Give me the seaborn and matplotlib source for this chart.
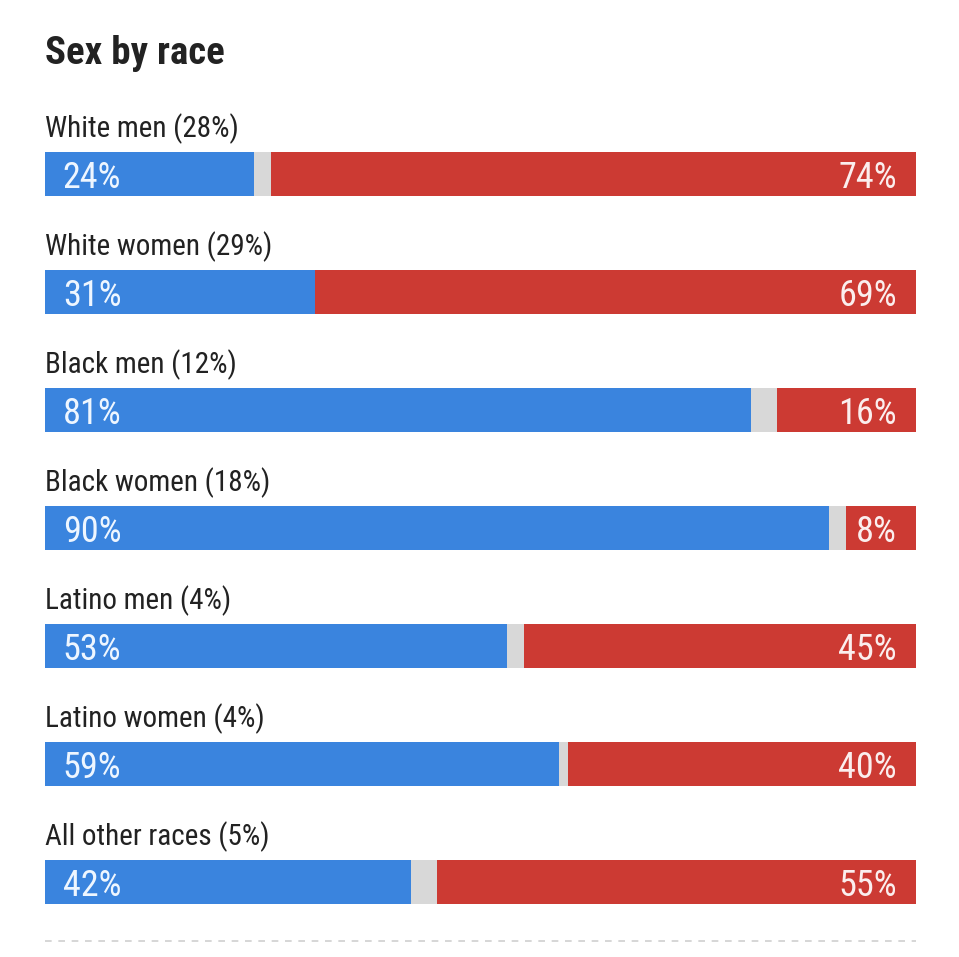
import matplotlib
matplotlib.use("Agg")
import matplotlib.pyplot as plt
from matplotlib import font_manager
import seaborn as sns
import pandas as pd
import os

# values
groups = ["White men (28%)", "White women (29%)", "Black men (12%)", "Black women (18%)",
          "Latino men (4%)", "Latino women (4%)", "All other races (5%)"]
biden = [24, 31, 81, 90, 53, 59, 42]
trump = [74, 69, 16, 8, 45, 40, 55]

BLUE = "#3a84de"
RED = "#cc3a33"
GRAY = "#d8d8d8"
INK = "#222222"


def find_font(keys):
    files = set(font_manager.findSystemFonts()) | {f.fname for f in font_manager.fontManager.ttflist}
    for k in keys:
        for f in sorted(files):
            if k.lower() in os.path.basename(f).lower():
                return f
    return None


reg_file = find_font(["RobotoCondensed-Regular", "RobotoCondensed-Light", "LiberationSansNarrow-Regular",
                      "DejaVuSansCondensed.ttf", "Condensed-Regular", "Narrow-Regular"])
bold_file = find_font(["RobotoCondensed-Bold", "LiberationSansNarrow-Bold", "DejaVuSansCondensed-Bold.ttf",
                       "Condensed-Bold", "Narrow-Bold"])

sns.set_theme(style="white")
plt.rcParams["font.family"] = ["DejaVu Sans"]

reg = font_manager.FontProperties(fname=reg_file) if reg_file else font_manager.FontProperties(family="DejaVu Sans")
bold = font_manager.FontProperties(fname=bold_file) if bold_file else font_manager.FontProperties(family="DejaVu Sans", weight="bold")

df = pd.DataFrame({"group": groups, "biden": biden, "trump": trump})
df["total"] = 100
df["gap"] = 100 - df["trump"]

W, H = 959, 957
fig = plt.figure(figsize=(W / 100, H / 100), dpi=100)
ax = fig.add_axes([45 / W, 1 - 941 / H, (916 - 45) / W, (941 - 115) / H])

bw = 44 / 118
for col, c in [("total", RED), ("gap", GRAY), ("biden", BLUE)]:
    sns.barplot(data=df, x=col, y="group", color=c, width=bw, saturation=1,
                linewidth=0, ax=ax, orient="h")

ax.set_xlim(0, 100)
ax.set_ylim(6.5, -0.5)
ax.set_xlabel("")
ax.set_ylabel("")
ax.set_xticks([])
ax.set_yticks([])
for s in ax.spines.values():
    s.set_visible(False)

for i, g in enumerate(groups):
    ax.text(0, i - 0.385, g, ha="left", va="center", fontproperties=reg, fontsize=21, color=INK)
    ax.text(2.05, i + 0.03, f"{biden[i]}%", ha="left", va="center", fontproperties=reg,
            fontsize=26, color="#eef6ff")
    ax.text(97.8, i + 0.03, f"{trump[i]}%", ha="right", va="center", fontproperties=reg,
            fontsize=26, color="#fbeeee")

ax.axhline(6.5, color="#d0d0d0", lw=1.2, ls=(0, (4, 4)), clip_on=False)

fig.text(45 / W, 1 - 53 / H, "Sex by race", ha="left", va="center",
         fontproperties=bold, fontsize=28, color=INK)

fig.savefig("out.png", dpi=100)
